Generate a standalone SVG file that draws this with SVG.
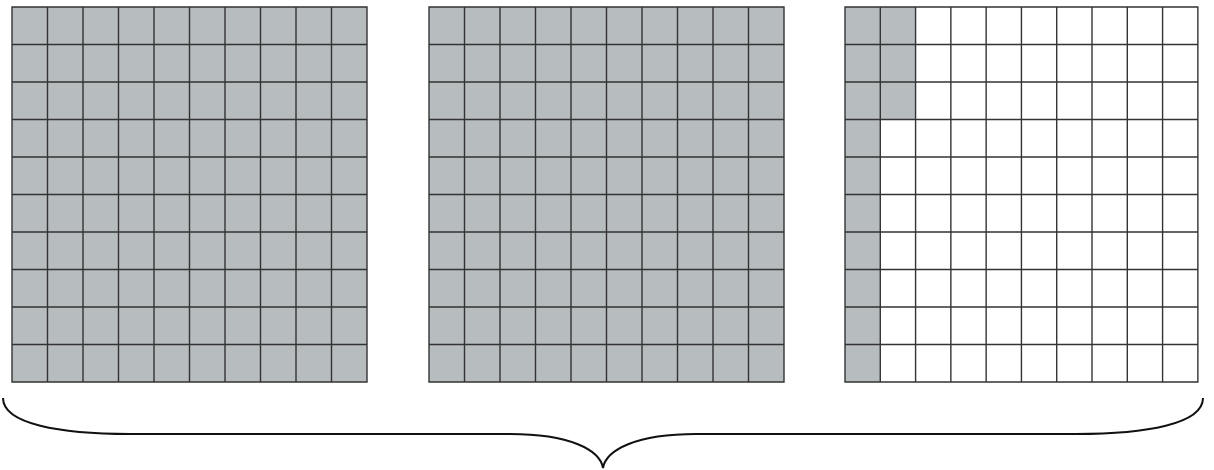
<svg xmlns="http://www.w3.org/2000/svg" width="1214" height="470" viewBox="0 0 1214 470">
<style>
.g{fill:#b7bcbf}
.w{fill:#ffffff}
.ln{stroke:#333;stroke-width:1.4;fill:none}
.br{stroke:#111;stroke-width:2;fill:none}
</style>
<defs>
<g id="lines">
<path class="ln" d="M0,0H355V375H0Z M35.5,0V375 M71,0V375 M106.5,0V375 M142,0V375 M177.5,0V375 M213,0V375 M248.5,0V375 M284,0V375 M319.5,0V375 M0,37.5H355 M0,75H355 M0,112.5H355 M0,150H355 M0,187.5H355 M0,225H355 M0,262.5H355 M0,300H355 M0,337.5H355"/>
</g>
</defs>
<g id="grid1" transform="translate(12,7)">
<rect class="g" x="0" y="0" width="355" height="375"/>
<use href="#lines"/>
</g>
<g id="grid2" transform="translate(429,7)">
<rect class="g" x="0" y="0" width="355" height="375"/>
<use href="#lines"/>
</g>
<g id="grid3" transform="translate(845,7) scale(0.994,1)">
<rect class="w" x="0" y="0" width="355" height="375"/>
<rect class="g" x="0" y="0" width="35.5" height="375"/>
<rect class="g" x="35.5" y="0" width="35.5" height="112.5"/>
<use href="#lines"/>
</g>
<g id="connectors">
<path class="br" d="M3,398 C3,424 60,434 130,434 L510,434 C570,434 600,450 603,468 C606,450 636,434 696,434 L1076,434 C1146,434 1203,424 1203,398"/>
</g>
</svg>
